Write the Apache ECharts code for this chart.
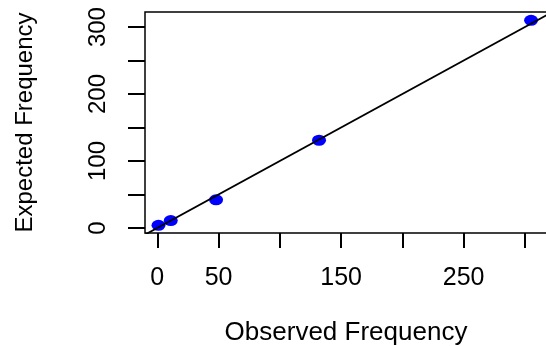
<!DOCTYPE html>
<html>
<head>
<meta charset="utf-8">
<script src="https://cdn.jsdelivr.net/npm/echarts@6/dist/echarts.min.js"></script>
<style>
  html, body { margin: 0; padding: 0; background: #fff; }
  #chart { width: 546px; height: 346px; }
</style>
</head>
<body>
<div id="chart"></div>
<script>
// observed vs expected counts
const observed = [1, 11, 48, 132, 305];
const expected = [4, 11, 42, 131, 310];
// y = x reference line (abline(0, 1))
const refLine = [[-50, -50], [400, 400]];

const xTicks = [0, 50, 100, 150, 200, 250, 300];
const xLabels = [0, 50, 150, 250];
const yTicks = [0, 50, 100, 150, 200, 250, 300];
const yLabels = [0, 100, 200, 300];

const font = "'Liberation Sans', Arial, sans-serif";
const narrow = "'Liberation Sans Narrow', 'Liberation Sans', Arial, sans-serif";

const chart = echarts.init(document.getElementById('chart'), null, { renderer: 'canvas' });

chart.setOption({
  animation: false,
  backgroundColor: '#fff',
  grid: {
    left: 145,
    top: 12,
    width: 402,
    height: 221,
    outerBoundsMode: 'none',
    containLabel: false,
    show: true,
    borderColor: '#000',
    borderWidth: 1.5,
    backgroundColor: 'transparent'
  },
  xAxis: {
    type: 'value',
    min: -10,
    max: 318,
    name: 'Observed Frequency',
    nameLocation: 'middle',
    nameGap: 87,
    nameTextStyle: { fontFamily: font, fontSize: 26, color: '#000' },
    axisLine: { show: false, onZero: false },
    axisTick: {
      show: true, inside: false, length: 15,
      customValues: xTicks,
      lineStyle: { color: '#000', width: 2 }
    },
    axisLabel: {
      customValues: xLabels,
      margin: 33,
      fontFamily: font, fontSize: 25, color: '#000'
    },
    splitLine: { show: false }
  },
  yAxis: {
    type: 'value',
    min: -7.5,
    max: 322.5,
    name: 'Expected Frequency',
    nameLocation: 'middle',
    nameRotate: 90,
    nameGap: 108,
    nameTextStyle: { fontFamily: font, fontSize: 24, color: '#000' },
    axisLine: { show: false, onZero: false },
    axisTick: {
      show: true, inside: false, length: 17,
      customValues: yTicks,
      lineStyle: { color: '#000', width: 2 }
    },
    axisLabel: {
      customValues: yLabels,
      rotate: 90,
      margin: 35,
      fontFamily: narrow, fontSize: 24, color: '#000'
    },
    splitLine: { show: false }
  },
  series: [
    {
      type: 'scatter',
      data: observed.map((o, i) => [o, expected[i]]),
      symbol: 'circle',
      symbolSize: [14, 11],
      itemStyle: { color: '#0000ff', opacity: 1 },
      z: 2
    },
    {
      type: 'line',
      data: refLine,
      clip: true,
      symbol: 'none',
      lineStyle: { color: '#000', width: 1.8 },
      z: 3
    }
  ]
});
</script>
</body>
</html>
